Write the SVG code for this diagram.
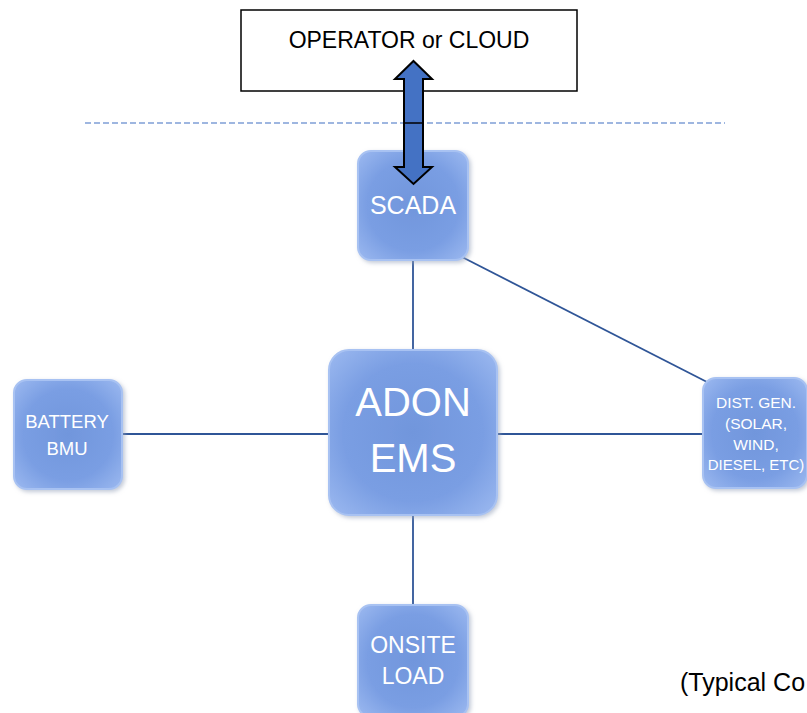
<svg xmlns="http://www.w3.org/2000/svg" width="807" height="713" viewBox="0 0 807 713">
<defs>
<radialGradient id="boxg" cx="50%" cy="50%" r="70%">
<stop offset="0" stop-color="#7196dc"/>
<stop offset="0.6" stop-color="#7a9ee3"/>
<stop offset="1" stop-color="#9cb9f0"/>
</radialGradient>
<filter id="soft" x="-10%" y="-10%" width="125%" height="125%">
<feGaussianBlur in="SourceAlpha" stdDeviation="2"/>
<feOffset dx="1.5" dy="2" result="b"/>
<feFlood flood-color="#9aa6bd" flood-opacity="0.6"/>
<feComposite in2="b" operator="in"/>
<feMerge><feMergeNode/><feMergeNode in="SourceGraphic"/></feMerge>
</filter>
<style>
.box{fill:url(#boxg);stroke:#a8c2f2;stroke-width:2;filter:url(#soft)}
.lbl{font-family:"Liberation Sans",Arial,sans-serif;fill:#ffffff;text-anchor:middle}
.con{stroke:#2f5597;stroke-width:1.8;fill:none}
</style>
</defs>
<rect width="807" height="713" fill="#ffffff"/>
<g id="connectors">
<line class="con" x1="413" y1="258" x2="413" y2="352"/>
<line class="con" x1="122" y1="434" x2="330" y2="434"/>
<line class="con" x1="496" y1="434" x2="704" y2="434"/>
<line class="con" x1="413" y1="513" x2="413" y2="606"/>
<line class="con" x1="462" y1="257" x2="707" y2="382" stroke-width="1.2"/>
</g>
<line x1="85" y1="123" x2="725" y2="123" stroke="#7f9fd6" stroke-width="1.5" stroke-dasharray="6,3"/>
<g id="operator">
<rect x="241" y="10" width="336" height="81" fill="#ffffff" stroke="#000000" stroke-width="1.5"/>
<text x="409" y="48" font-family="Liberation Sans, Arial, sans-serif" font-size="23" text-anchor="middle" fill="#000000">OPERATOR or CLOUD</text>
</g>
<g id="scada">
<rect class="box" x="358" y="151" width="110" height="109" rx="13"/>
<text class="lbl" x="413" y="214" font-size="25">SCADA</text>
</g>
<g id="ems">
<rect class="box" x="329" y="350" width="168" height="165" rx="20"/>
<text class="lbl" x="413" y="416" font-size="40">ADON</text>
<text class="lbl" x="413" y="472" font-size="40">EMS</text>
</g>
<g id="battery">
<rect class="box" x="14" y="380" width="108" height="109" rx="13"/>
<text class="lbl" x="67" y="428" font-size="18.5">BATTERY</text>
<text class="lbl" x="67" y="455" font-size="18.5">BMU</text>
</g>
<g id="distgen">
<rect class="box" x="703" y="378" width="104" height="110" rx="13"/>
<text class="lbl" x="756" y="408" font-size="15.5">DIST. GEN.</text>
<text class="lbl" x="756" y="429" font-size="15.5">(SOLAR,</text>
<text class="lbl" x="756" y="450" font-size="15.5">WIND,</text>
<text class="lbl" x="756" y="470" font-size="15">DIESEL, ETC)</text>
</g>
<g id="onsite">
<rect class="box" x="358" y="605" width="110" height="112" rx="13"/>
<text class="lbl" x="413" y="653" font-size="23">ONSITE</text>
<text class="lbl" x="413" y="684" font-size="23">LOAD</text>
</g>
<g id="arrow">
<path d="M413.5,61 L432,79 L423,79 L423,167 L432,167 L413.5,184 L395,167 L404,167 L404,79 L395,79 Z" fill="#4472c4" stroke="#000000" stroke-width="2" stroke-linejoin="miter"/>
<line x1="404" y1="123" x2="423" y2="123" stroke="#000000" stroke-width="1.5"/>
</g>
<text x="680" y="691" font-family="Liberation Sans, Arial, sans-serif" font-size="25" fill="#000000">(Typical Co</text>
</svg>
